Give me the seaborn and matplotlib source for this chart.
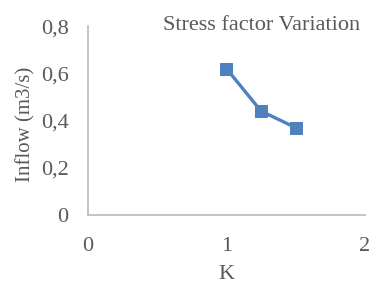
import pandas as pd
import matplotlib.pyplot as plt
import seaborn as sns

# Data
k_values = [1.0, 1.25, 1.5]
inflow = [0.62, 0.44, 0.37]
x_ticks = [0, 1, 2]
y_ticks = [0, 0.2, 0.4, 0.6, 0.8]

df = pd.DataFrame({"K": k_values, "Inflow": inflow})

sns.set_style("white")
plt.rcParams['font.family'] = ['Liberation Serif', 'DejaVu Serif']
text_color = '#595959'

fig = plt.figure(figsize=(3.69, 2.84), dpi=100)
ax = fig.add_axes([0.2385, 0.243, 0.7505, 0.665])

sns.lineplot(data=df, x="K", y="Inflow", ax=ax, color='#4F81BD', linewidth=2.4,
             marker='s', markersize=9, markeredgecolor='#4F81BD')

ax.set_xlim(0, 2)
ax.set_ylim(0, 0.8)
ax.set_xticks(x_ticks)
ax.set_yticks(y_ticks)
ax.set_xticklabels([str(t) for t in x_ticks])
ax.set_yticklabels(['0' if t == 0 else f'{t:.1f}'.replace('.', ',') for t in y_ticks])
ax.tick_params(length=0, labelsize=16, colors=text_color)
ax.tick_params(axis='y', pad=14)
ax.tick_params(axis='x', pad=16)

for side in ['top', 'right']:
    ax.spines[side].set_visible(False)
for side in ['left', 'bottom']:
    ax.spines[side].set_color('#BFBFBF')
    ax.spines[side].set_linewidth(1.3)

ax.set_xlabel('K', fontsize=16, color=text_color)
ax.set_ylabel('Inflow (m3/s)', fontsize=15, color=text_color)
ax.xaxis.set_label_coords(0.5, -0.265)
ax.yaxis.set_label_coords(-0.19, 0.48)

fig.text(0.71, 0.91, 'Stress factor Variation', ha='center', va='center',
         fontsize=16, color=text_color)

fig.savefig('out.png', dpi=100)
